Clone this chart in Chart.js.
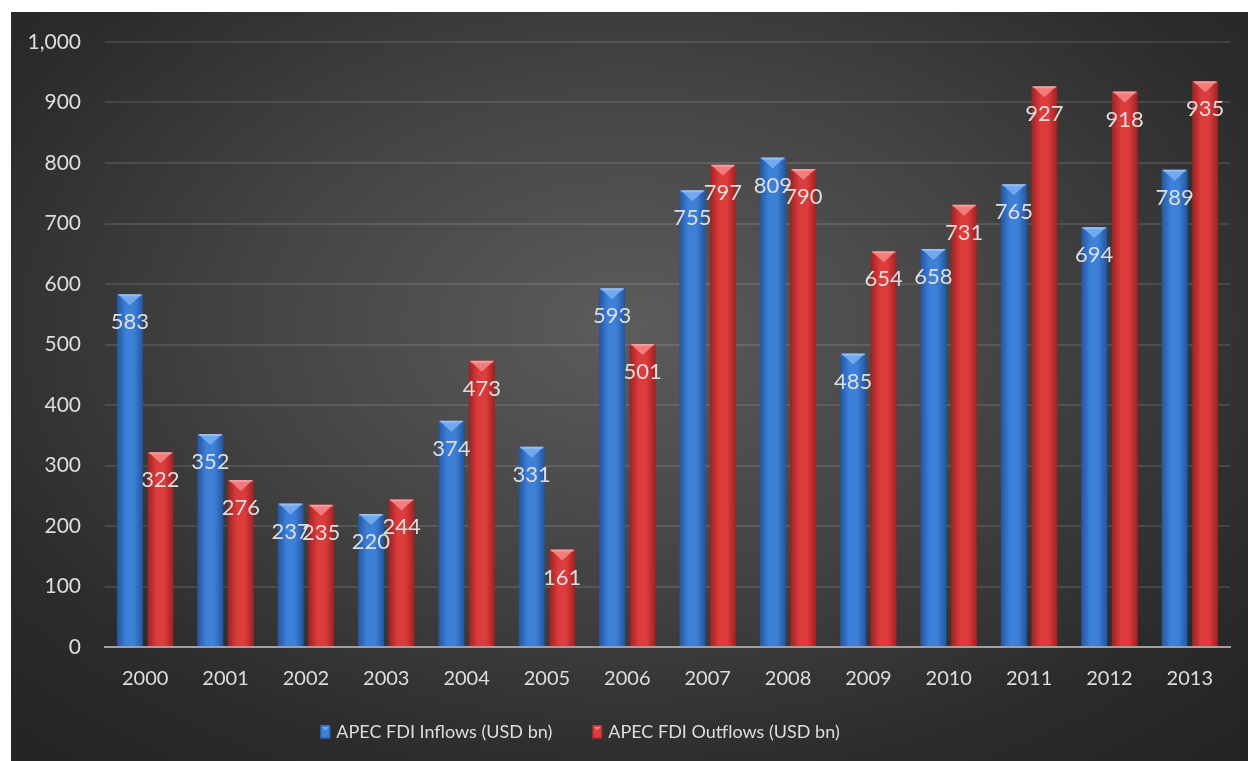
<!DOCTYPE html>
<html>
<head>
<meta charset="utf-8">
<script src="https://cdn.jsdelivr.net/npm/chart.js@4"></script>
<style>
  html, body { margin: 0; padding: 0; background: #fff; }
  #wrap {
    position: absolute; left: 11px; top: 12px; width: 1237px; height: 749px;
    background: radial-gradient(ellipse 70% 75% at 50% 42%, #5c5c5c 0%, #434343 45%, #2c2c2c 80%, #252525 100%);
  }
</style>
</head>
<body>
<div id="wrap"><canvas id="chart"></canvas></div>
<script>
// années
const years = ["2000", "2001", "2002", "2003", "2004", "2005", "2006", "2007", "2008", "2009", "2010", "2011", "2012", "2013"];
const inflows = [583, 352, 237, 220, 374, 331, 593, 755, 809, 485, 658, 765, 694, 789];
const outflows = [322, 276, 235, 244, 473, 161, 501, 797, 790, 654, 731, 927, 918, 935];
const yTicks = [0, 100, 200, 300, 400, 500, 600, 700, 800, 900, 1000];

const FONT = "Lato, 'Open Sans', sans-serif";
const TEXT = "#dedede";

// couleurs des barres : bord, centre, biseau
const palette = [
  { edge: "#23559f", mid: "#3d80d8", top: "#72a8ee" },
  { edge: "#9c2222", mid: "#dc3c3c", top: "#f27c7c" },
];

// dégradé horizontal + biseau en haut des barres
const barStyle = {
  id: "barStyle",
  beforeDatasetsDraw(chart) {
    const ctx = chart.ctx;
    chart.data.datasets.forEach((ds, i) => {
      const c = palette[i];
      chart.getDatasetMeta(i).data.forEach((bar) => {
        const l = bar.x - bar.width / 2;
        const g = ctx.createLinearGradient(l, 0, l + bar.width, 0);
        g.addColorStop(0, c.edge);
        g.addColorStop(0.35, c.mid);
        g.addColorStop(0.65, c.mid);
        g.addColorStop(1, c.edge);
        bar.options.backgroundColor = g;
      });
    });
  },
  afterDatasetsDraw(chart) {
    const ctx = chart.ctx;
    ctx.save();
    chart.data.datasets.forEach((ds, i) => {
      const c = palette[i];
      chart.getDatasetMeta(i).data.forEach((bar) => {
        const l = bar.x - bar.width / 2;
        const r = bar.x + bar.width / 2;
        ctx.fillStyle = c.top;
        ctx.beginPath();
        ctx.moveTo(l + 1, bar.y);
        ctx.lineTo(r - 1, bar.y);
        ctx.lineTo(bar.x, bar.y + 11);
        ctx.closePath();
        ctx.fill();
        ctx.fillStyle = "rgba(255,255,255,0.25)";
        ctx.fillRect(l + 1, bar.y, bar.width - 2, 2);
      });
    });
    // étiquettes de valeurs
    ctx.font = "22px " + FONT;
    ctx.fillStyle = TEXT;
    ctx.textAlign = "center";
    ctx.textBaseline = "middle";
    chart.data.datasets.forEach((ds, i) => {
      chart.getDatasetMeta(i).data.forEach((bar, j) => {
        ctx.fillText(ds.data[j], bar.x, bar.y + 28);
      });
    });
    ctx.restore();
  },
};

// légende dessinée à la main (décalée vers la gauche comme dans l'original)
const customLegend = {
  id: "customLegend",
  afterDraw(chart) {
    const ctx = chart.ctx;
    const cx = 569, cy = 720, gap = 40, boxW = 10, boxH = 13, boxGap = 6;
    ctx.save();
    ctx.font = "18px " + FONT;
    ctx.textBaseline = "middle";
    const items = chart.data.datasets.map((ds, i) => ({
      text: ds.label,
      c: palette[i],
      w: boxW + boxGap + ctx.measureText(ds.label).width,
    }));
    const total = items.reduce((s, it) => s + it.w, 0) + gap * (items.length - 1);
    let x = cx - total / 2;
    items.forEach((it) => {
      const top = cy - boxH / 2;
      ctx.fillStyle = it.c.mid;
      ctx.fillRect(x, top, boxW, boxH);
      ctx.fillStyle = it.c.top;
      ctx.beginPath();
      ctx.moveTo(x, top);
      ctx.lineTo(x + boxW, top);
      ctx.lineTo(x + boxW / 2, top + 5);
      ctx.closePath();
      ctx.fill();
      ctx.strokeStyle = it.c.edge;
      ctx.lineWidth = 1;
      ctx.strokeRect(x + 0.5, top + 0.5, boxW - 1, boxH - 1);
      ctx.fillStyle = TEXT;
      ctx.fillText(it.text, x + boxW + boxGap, cy);
      x += it.w + gap;
    });
    ctx.restore();
  },
};

Chart.defaults.font.family = FONT;
Chart.defaults.color = TEXT;

new Chart(document.getElementById("chart"), {
  type: "bar",
  data: {
    labels: years,
    datasets: [
      // couleur scriptable => options non partagées entre barres
      { label: "APEC FDI Inflows (USD bn)", data: inflows, backgroundColor: () => palette[0].mid },
      { label: "APEC FDI Outflows (USD bn)", data: outflows, backgroundColor: () => palette[1].mid },
    ],
  },
  options: {
    responsive: true,
    maintainAspectRatio: false,
    animation: false,
    datasets: { bar: { categoryPercentage: 0.76, barPercentage: 0.85 } },
    layout: { padding: { top: 30, right: 18, left: 0, bottom: 50 } },
    scales: {
      x: {
        grid: { display: false, drawTicks: false },
        border: { color: "#a0a0a0", width: 2 },
        ticks: { font: { size: 20 }, color: TEXT, padding: 20 },
      },
      y: {
        min: 0,
        max: 1000,
        afterFit(scale) {
          scale.width = 94;
          scale.paddingTop = 0;
          scale.paddingBottom = 0;
        },
        afterBuildTicks(scale) { scale.ticks = yTicks.map((v) => ({ value: v })); },
        grid: { color: "rgba(255,255,255,0.11)", lineWidth: 2, drawTicks: false },
        border: { display: false },
        ticks: {
          font: { size: 21 },
          color: TEXT,
          padding: 24,
          callback: (v) => v.toLocaleString("en-US"),
        },
      },
    },
    plugins: {
      legend: { display: false },
      tooltip: { enabled: false },
    },
  },
  plugins: [barStyle, customLegend],
});
</script>
</body>
</html>
